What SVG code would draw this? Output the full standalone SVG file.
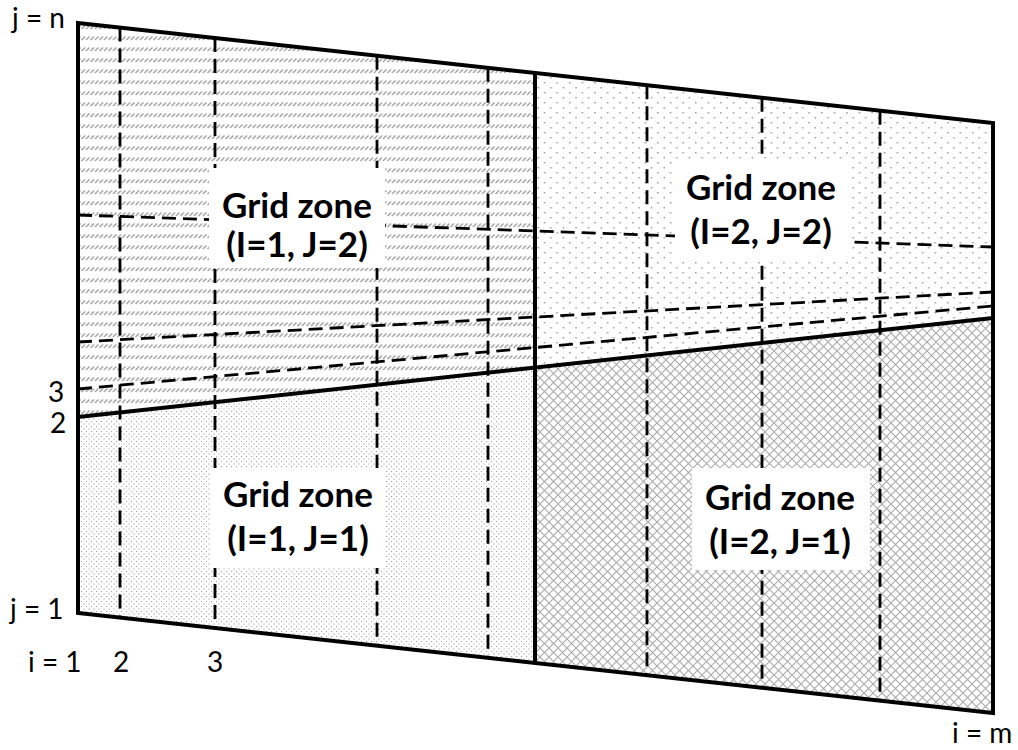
<svg xmlns="http://www.w3.org/2000/svg" width="1018" height="750" viewBox="0 0 1018 750">
<defs>
<pattern id="pHatch" patternUnits="userSpaceOnUse" width="4.5" height="11">
<line x1="0.5" y1="7" x2="4" y2="3.5" stroke="#999" stroke-width="1.2"/>
</pattern>
<pattern id="pFine" patternUnits="userSpaceOnUse" width="5" height="5">
<rect x="1" y="1" width="1.1" height="1.1" fill="#a0a0a0"/>
<rect x="3.5" y="3.5" width="1.1" height="1.1" fill="#a0a0a0"/>
</pattern>
<pattern id="pSparse" patternUnits="userSpaceOnUse" width="12.6" height="10">
<rect x="2" y="2" width="1.5" height="1.5" fill="#9a9a9a"/>
<rect x="8.3" y="7" width="1.5" height="1.5" fill="#9a9a9a"/>
</pattern>
<pattern id="pCross" patternUnits="userSpaceOnUse" width="9" height="9">
<path d="M0,0 L9,9 M9,0 L0,9" stroke="#aaa" stroke-width="1.1" fill="none"/>
</pattern>
<style>
.solid{fill:none;stroke:#000;stroke-width:4;stroke-linejoin:miter}
.dash{fill:none;stroke:#000;stroke-width:2.8;stroke-dasharray:14 7}
.lab{font-family:Lato,"Liberation Sans",sans-serif;font-weight:bold;font-size:35px;fill:#000;text-anchor:middle}
.idx{font-family:Lato,"Liberation Sans",sans-serif;font-size:28px;fill:#000}
.box{fill:#fff;stroke:none}
</style>
</defs>
<g id="zones">
<polygon id="zone-1-2" points="78,23 535,73 535,367.6 78,417" fill="url(#pHatch)"/>
<polygon id="zone-2-2" points="535,73 993,123 993,318 535,367.6" fill="url(#pSparse)"/>
<polygon id="zone-1-1" points="78,417 535,367.6 535,663 78,613" fill="url(#pFine)"/>
<polygon id="zone-2-1" points="535,367.6 993,318 993,713 535,663" fill="url(#pCross)"/>
</g>
<g id="connectors">
<line class="dash" x1="120" y1="27.6" x2="120" y2="617.6"/>
<line class="dash" x1="215" y1="38" x2="215" y2="628"/>
<line class="dash" x1="377" y1="55.7" x2="377" y2="645.7"/>
<line class="dash" x1="488" y1="67.8" x2="488" y2="657.8"/>
<line class="dash" x1="647" y1="85.3" x2="647" y2="675.3"/>
<line class="dash" x1="762" y1="97.8" x2="762" y2="687.8"/>
<line class="dash" x1="880" y1="110.7" x2="880" y2="700.7"/>
<line class="dash" x1="78" y1="215" x2="993" y2="247"/>
<line class="dash" x1="78" y1="342" x2="993" y2="292"/>
<line class="dash" x1="78" y1="389" x2="993" y2="306"/>
<line class="solid" x1="78" y1="417" x2="993" y2="318"/>
<line class="solid" x1="535" y1="73" x2="535" y2="663"/>
<polygon class="solid" points="78,23 993,123 993,713 78,613"/>
</g>
<g id="label-1-2">
<rect class="box" x="209" y="168" width="176" height="100"/>
<text class="lab" x="297" y="218">Grid zone</text>
<text class="lab" x="297" y="257">(I=1, J=2)</text>
</g>
<g id="label-2-2">
<rect class="box" x="675" y="160" width="173" height="100"/>
<text class="lab" x="761" y="200">Grid zone</text>
<text class="lab" x="761" y="244">(I=2, J=2)</text>
</g>
<g id="label-1-1">
<rect class="box" x="210" y="468" width="175" height="100"/>
<text class="lab" x="298" y="507">Grid zone</text>
<text class="lab" x="298" y="551">(I=1, J=1)</text>
</g>
<g id="label-2-1">
<rect class="box" x="692" y="468" width="178" height="102"/>
<text class="lab" x="780" y="510">Grid zone</text>
<text class="lab" x="780" y="554">(I=2, J=1)</text>
</g>
<g id="axis-labels">
<text class="idx" x="12" y="28">j = n</text>
<text class="idx" x="48" y="402">3</text>
<text class="idx" x="50" y="433">2</text>
<text class="idx" x="10" y="619">j = 1</text>
<text class="idx" x="28" y="672">i = 1</text>
<text class="idx" x="113" y="672">2</text>
<text class="idx" x="207" y="672">3</text>
<text class="idx" x="952" y="743">i = m</text>
</g>
</svg>
